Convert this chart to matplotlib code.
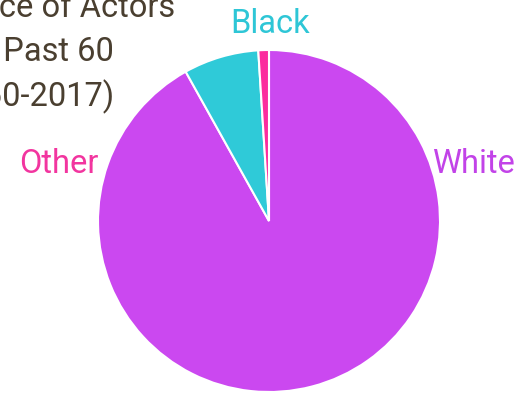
import matplotlib
matplotlib.use("Agg")
import matplotlib.pyplot as plt

# data
races = ["White", "Black", "Other"]
shares = [91.9, 7.1, 1.0]
colors = ["#cb48f0", "#2fcad8", "#fb2d9e"]
label_colors = ["#c243e8", "#2ec6d6", "#f2359f"]
title_lines = ["Race of Actors", "in the Past 60", "(1960-2017)"]

plt.rcParams["font.family"] = ["Roboto", "DejaVu Sans"]
W, H = 527, 393
fig = plt.figure(figsize=(W / 100, H / 100), dpi=100)

# pie centred at (269, 221) px, radius 171 px
cx, cy, r = 269, 221, 171
ax = fig.add_axes([(cx - r) / W, (H - cy - r) / H, 2 * r / W, 2 * r / H])
ax.pie(shares, colors=colors, startangle=90, counterclock=False,
       radius=1.0, wedgeprops=dict(edgecolor="white", linewidth=1.5))
ax.set_xlim(-1, 1); ax.set_ylim(-1, 1)
ax.set_axis_off()

fs = 23.5
# slice labels
pos = {"White": (473, 173), "Black": (270, 33), "Other": (59, 173)}
for name, col in zip(races, label_colors):
    x, y = pos[name]
    fig.text(x / W, 1 - y / H, name, color=col, fontsize=fs,
             ha="center", va="baseline")

# title (cut off on the left)
ends = [(175, 17), (114, 61), (115, 106)]
for line, (x, y) in zip(title_lines, ends):
    fig.text(x / W, 1 - y / H, line, color="#4a3f30", fontsize=fs,
             ha="right", va="baseline")

fig.savefig("out.png", dpi=100)
